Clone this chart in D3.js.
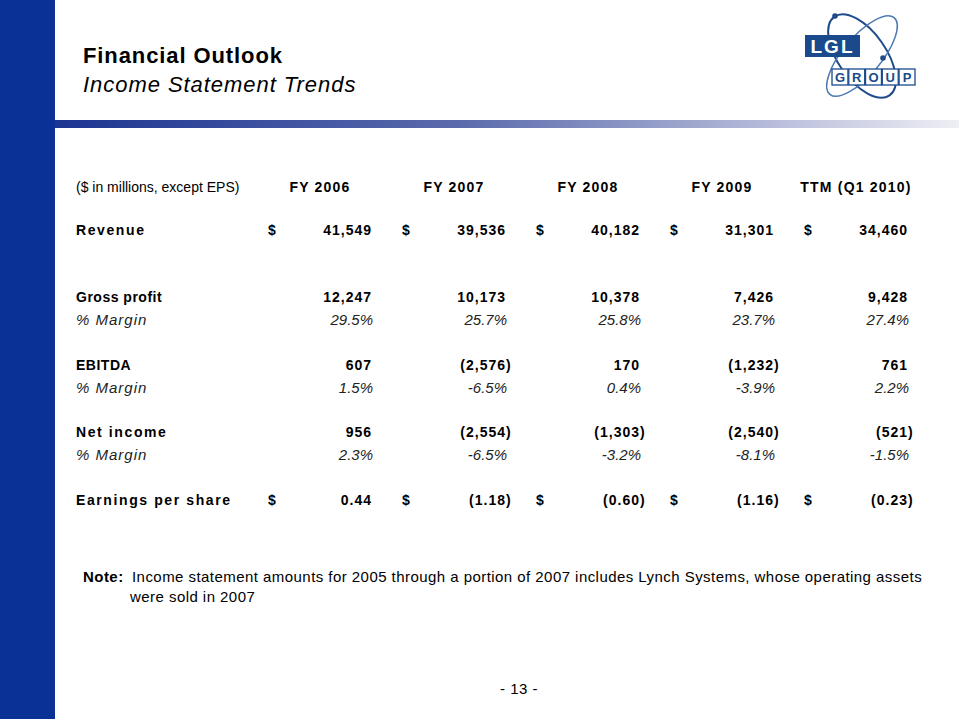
<!DOCTYPE html>
<html><head><meta charset="utf-8">
<script src="https://cdn.jsdelivr.net/npm/d3@7"></script>
<style>
html,body{margin:0;padding:0;background:#fff;overflow:hidden}
svg{display:block;font-family:"Liberation Sans",Arial,sans-serif}
</style></head>
<body>
<svg id="c" width="959" height="719"></svg>
<script>
// ---- data ----
const columns = ["FY 2006","FY 2007","FY 2008","FY 2009","TTM (Q1 2010)"];
const revenue = [41549, 39536, 40182, 31301, 34460];
const grossProfit = [12247, 10173, 10378, 7426, 9428];
const grossMargin = [29.5, 25.7, 25.8, 23.7, 27.4];
const ebitda = [607, -2576, 170, -1232, 761];
const ebitdaMargin = [1.5, -6.5, 0.4, -3.9, 2.2];
const netIncome = [956, -2554, -1303, -2540, -521];
const netMargin = [2.3, -6.5, -3.2, -8.1, -1.5];
const eps = [0.44, -1.18, -0.60, -1.16, -0.23];
const unitsLabel = "($ in millions, except EPS)";
const titleText = "Financial Outlook";
const subtitleText = "Income Statement Trends";
const noteLabel = "Note:";
const noteLines = ["Income statement amounts for 2005 through a portion of 2007 includes Lynch Systems, whose operating assets",
                   "were sold in 2007"];
const pageLabel = "- 13 -";

const rows = [
  {label:"Revenue", values:revenue, kind:"money", dollar:true, line:0},
  {label:"Gross profit", values:grossProfit, kind:"money", line:3},
  {label:"% Margin", values:grossMargin, kind:"pct", line:4},
  {label:"EBITDA", values:ebitda, kind:"money", line:6},
  {label:"% Margin", values:ebitdaMargin, kind:"pct", line:7},
  {label:"Net income", values:netIncome, kind:"money", line:9},
  {label:"% Margin", values:netMargin, kind:"pct", line:10},
  {label:"Earnings per share", values:eps, kind:"eps", dollar:true, line:12}
];

const svg = d3.select("#c");
const W = 959, H = 719;

// ---- background decorations ----
const defs = svg.append("defs");
const g1 = defs.append("linearGradient").attr("id","bar").attr("x1","0").attr("x2","1");
g1.append("stop").attr("offset","0").attr("stop-color","#1d3592");
g1.append("stop").attr("offset","0.45").attr("stop-color","#5a6aac");
g1.append("stop").attr("offset","0.8").attr("stop-color","#b9bedb");
g1.append("stop").attr("offset","1").attr("stop-color","#eeeef4");

svg.append("rect").attr("x",0).attr("y",0).attr("width",55).attr("height",H).attr("fill","#0a3195");
svg.append("rect").attr("x",55).attr("y",120).attr("width",W-55).attr("height",8).attr("fill","url(#bar)");

// title
svg.append("text").attr("x",83).attr("y",63).attr("font-size",22).attr("font-weight","bold")
  .attr("letter-spacing",0.9).attr("fill","#000").text(titleText);
svg.append("text").attr("x",83).attr("y",92).attr("font-size",22).attr("font-style","italic")
  .attr("letter-spacing",0.95).attr("fill","#000").text(subtitleText);

// logo
const logo = svg.append("g").attr("transform","translate(862,56)");
logo.append("ellipse").attr("rx",48).attr("ry",24).attr("transform","rotate(55)")
  .attr("fill","none").attr("stroke","#1f4b8a").attr("stroke-width",2);
logo.append("ellipse").attr("rx",50).attr("ry",19).attr("transform","rotate(-50)")
  .attr("fill","none").attr("stroke","#4d7cb3").attr("stroke-width",1.5);
logo.append("circle").attr("cx",-27).attr("cy",-40).attr("r",2.8).attr("fill","#1f4b8a");
logo.append("circle").attr("cx",21).attr("cy",2).attr("r",2.8).attr("fill","#1f4b8a");
logo.append("rect").attr("x",-57).attr("y",-21).attr("width",55).attr("height",22).attr("fill","#1a4a8c");
logo.append("text").attr("x",-29.5).attr("y",-3).attr("text-anchor","middle").attr("fill","#fff")
  .attr("font-size",19).attr("font-weight","bold").attr("letter-spacing",2).text("LGL");
const grp = "GROUP".split("");
const gx = d3.scaleBand().domain(d3.range(grp.length)).range([-30,53]).paddingInner(0.05);
logo.selectAll("rect.g").data(grp).join("rect").attr("class","g")
  .attr("x",(d,i)=>gx(i)).attr("y",13).attr("width",gx.bandwidth()).attr("height",16)
  .attr("fill","#fff").attr("stroke","#1a4a8c").attr("stroke-width",1.3);
logo.selectAll("text.g").data(grp).join("text").attr("class","g")
  .attr("x",(d,i)=>gx(i)+gx.bandwidth()/2).attr("y",26).attr("text-anchor","middle")
  .attr("fill","#1a4a8c").attr("font-size",13).attr("font-weight","bold").text(d=>d);

// ---- table ----
const colX = d3.scaleBand().domain(columns).range([255, 925]);
const lineY = d3.scaleLinear().domain([0,12]).range([230, 500]);
const headerY = 187;
const numRight = c => colX(c) + 117;
const dollarX = c => colX(c) + 17;

const fmtMoney = d3.format(",");
const fmtPct = v => (v<0?"-":"") + Math.abs(v).toFixed(1) + "%";
const fmtEps = v => Math.abs(v).toFixed(2);

svg.append("text").attr("x",76).attr("y",headerY).attr("dy","0.35em").attr("font-size",14)
  .attr("fill","#000").text(unitsLabel);
svg.selectAll("text.hdr").data(columns).join("text").attr("class","hdr")
  .attr("x",c=>colX(c)+65).attr("y",headerY).attr("dy","0.35em").attr("text-anchor","middle")
  .attr("font-size",14).attr("font-weight","bold").attr("letter-spacing",1.2).attr("fill","#000").text(c=>c);

rows.forEach(r => {
  const y = lineY(r.line);
  const isPct = r.kind === "pct";
  svg.append("text").attr("x",76).attr("y",y).attr("dy","0.35em")
    .attr("font-size", isPct ? 15 : 14)
    .attr("font-weight", isPct ? "normal" : "bold")
    .attr("font-style", isPct ? "italic" : "normal")
    .attr("fill", isPct ? "#222" : "#000")
    .attr("letter-spacing", isPct ? 1 : (r.label==="Revenue"||r.label==="Earnings per share"||r.label==="Net income" ? 1.6 : 0.5))
    .text(r.label);
  const cells = columns.map((c,i)=>({c, v:r.values[i]}));
  if (r.dollar) {
    svg.selectAll(null).data(cells).join("text")
      .attr("x",d=>dollarX(d.c)).attr("y",y).attr("dy","0.35em").attr("text-anchor","middle")
      .attr("font-size",14).attr("font-weight","bold").attr("fill","#000").text("$");
  }
  svg.selectAll(null).data(cells).join("text")
    .attr("x",d=>numRight(d.c) + (isPct?1:0)).attr("y",y).attr("dy","0.35em").attr("text-anchor","end")
    .attr("font-size", isPct ? 15 : 14)
    .attr("font-weight", isPct ? "normal" : "bold")
    .attr("font-style", isPct ? "italic" : "normal")
    .attr("letter-spacing", isPct ? 0 : 1)
    .attr("fill", isPct ? "#222" : "#000")
    .text(d => isPct ? fmtPct(d.v) : (d.v<0?"(":"") + (r.kind==="eps"?fmtEps(d.v):fmtMoney(Math.abs(d.v))));
  if (!isPct) {
    svg.selectAll(null).data(cells.filter(d=>d.v<0)).join("text")
      .attr("x",d=>numRight(d.c)).attr("y",y).attr("dy","0.35em")
      .attr("font-size",14).attr("font-weight","bold").attr("fill","#000").text(")");
  }
});

// ---- note & page number ----
const note = svg.append("text").attr("x",83).attr("y",577).attr("dy","0.35em").attr("font-size",15)
  .attr("letter-spacing",0.45).attr("fill","#000");
note.append("tspan").attr("font-weight","bold").text(noteLabel);
note.append("tspan").attr("x",132).text(noteLines[0]);
svg.append("text").attr("x",130).attr("y",597).attr("dy","0.35em").attr("font-size",15)
  .attr("letter-spacing",0.45).attr("fill","#000").text(noteLines[1]);
svg.append("text").attr("x",519).attr("y",689).attr("dy","0.35em").attr("text-anchor","middle")
  .attr("font-size",15).attr("letter-spacing",0.5).attr("fill","#000").text(pageLabel);
</script>
</body></html>
